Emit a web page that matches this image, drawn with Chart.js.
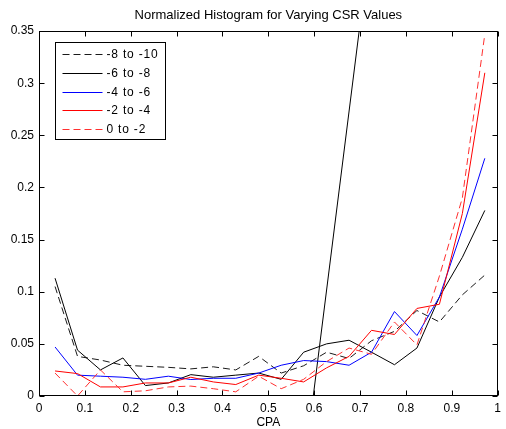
<!DOCTYPE html>
<html><head><meta charset="utf-8">
<script src="https://cdn.jsdelivr.net/npm/chart.js@4.4.1/dist/chart.umd.min.js"></script>
<style>html,body{margin:0;padding:0;background:#fff}#wrap{width:506px;height:429px;position:relative}</style>
</head><body><div id="wrap"><canvas id="c"></canvas></div>
<script>
// ---- data ----
const binCenters = [0.035, 0.084, 0.134, 0.183, 0.232, 0.282, 0.331, 0.380, 0.429, 0.479, 0.528, 0.577, 0.627, 0.676, 0.725, 0.775, 0.824, 0.873, 0.923, 0.972];
const seriesNames = ['-8 to -10', '-6 to -8', '-4 to -6', '-2 to -4', '0 to -2'];
const csr8to10 = [0.105, 0.038, 0.0345, 0.0295, 0.0285, 0.0275, 0.026, 0.028, 0.025, 0.038, 0.022, 0.029, 0.042, 0.036, 0.053, 0.062, 0.082, 0.071, 0.097, 0.116];
const csr6to8  = [0.113, 0.044, 0.025, 0.0365, 0.010, 0.0125, 0.0205, 0.018, 0.020, 0.022, 0.016, 0.042, 0.050, 0.0535, 0.042, 0.030, 0.046, 0.095, 0.133, 0.178];
const csr4to6  = [0.047, 0.020, 0.019, 0.018, 0.016, 0.019, 0.0158, 0.017, 0.017, 0.022, 0.0295, 0.034, 0.033, 0.0295, 0.042, 0.081, 0.058, 0.095, 0.160, 0.228];
const csr2to4  = [0.024, 0.0215, 0.0087, 0.0087, 0.0125, 0.0125, 0.018, 0.0135, 0.011, 0.020, 0.017, 0.0135, 0.027, 0.038, 0.063, 0.059, 0.084, 0.088, 0.175, 0.310];
const csr0to2  = [0.022, 0.0, 0.025, 0.004, 0.005, 0.0087, 0.0095, 0.007, 0.004, 0.019, 0.007, 0.016, 0.033, 0.046, 0.040, 0.071, 0.049, 0.115, 0.190, 0.347];
const spikeX = [0.598, 0.698];
const spikeY = [0, 0.35];
const xTickValues = [0, 0.1, 0.2, 0.3, 0.4, 0.5, 0.6, 0.7, 0.8, 0.9, 1];
const xTickLabels = ['0', '0.1', '0.2', '0.3', '0.4', '0.5', '0.6', '0.7', '0.8', '0.9', '1'];
const yTickValues = [0, 0.05, 0.1, 0.15, 0.2, 0.25, 0.3, 0.35];
const yTickLabels = ['0', '0.05', '0.1', '0.15', '0.2', '0.25', '0.3', '0.35'];

// ---- styles ----
const seriesValues = [csr8to10, csr6to8, csr4to6, csr2to4, csr0to2];
const lineColors = ['#1a1a1a', '#000000', '#0000ff', '#ff0000', '#ff3030'];
const lineDashes = [[7, 4], [], [], [], [7, 4]];
const FONT = "'Liberation Sans', Arial, Helvetica, sans-serif";

const datasets = seriesNames.map((name, i) => ({
  label: name,
  data: binCenters.map((x, j) => ({x: x, y: seriesValues[i][j]})),
  borderColor: lineColors[i],
  borderDash: lineDashes[i],
  borderWidth: 1,
  pointRadius: 0,
  tension: 0,
  fill: false,
  order: 10 - i
}));
datasets.push({
  label: '',
  data: spikeX.map((x, j) => ({x: x, y: spikeY[j]})),
  borderColor: '#000000',
  borderWidth: 1,
  pointRadius: 0,
  tension: 0,
  fill: false,
  order: 20
});

const framePlugin = {
  id: 'frame',
  afterDatasetsDraw(chart) {
    const {ctx, chartArea: a, scales: {x, y}} = chart;
    ctx.save();
    ctx.strokeStyle = '#000';
    ctx.lineWidth = 1;
    ctx.setLineDash([]);
    const L = Math.round(a.left) + 0.5, R = Math.round(a.right) - 0.5;
    const T = Math.round(a.top) + 0.5, B = Math.round(a.bottom) - 0.5;
    ctx.strokeRect(L, T, R - L, B - T);
    const tl = 5;
    ctx.beginPath();
    xTickValues.forEach(v => {
      const px = Math.round(x.getPixelForValue(v)) + 0.5;
      ctx.moveTo(px, B); ctx.lineTo(px, B - tl);
      ctx.moveTo(px, T); ctx.lineTo(px, T + tl);
    });
    yTickValues.forEach(v => {
      const py = Math.round(y.getPixelForValue(v)) + 0.5;
      ctx.moveTo(L, py); ctx.lineTo(L + tl, py);
      ctx.moveTo(R, py); ctx.lineTo(R - tl, py);
    });
    ctx.stroke();

    // legend box
    const bx = Math.round(a.left + 16) + 0.5, by = Math.round(a.top + 11) + 0.5;
    const bw = 110, bh = 97;
    ctx.fillStyle = '#fff';
    ctx.fillRect(bx, by, bw, bh);
    ctx.strokeStyle = '#000';
    ctx.strokeRect(bx, by, bw, bh);
    ctx.font = '12px ' + FONT;
    if ('letterSpacing' in ctx) ctx.letterSpacing = '0.8px';
    ctx.textBaseline = 'middle';
    ctx.textAlign = 'left';
    seriesNames.forEach((name, i) => {
      const ry = Math.round(by + 11.5 + i * 18.8) + 0.5;
      ctx.beginPath();
      ctx.strokeStyle = lineColors[i];
      ctx.setLineDash(lineDashes[i]);
      ctx.moveTo(bx + 7, ry);
      ctx.lineTo(bx + 47, ry);
      ctx.stroke();
      ctx.setLineDash([]);
      ctx.fillStyle = '#000';
      ctx.fillText(name, bx + 51, ry);
    });
    if ('letterSpacing' in ctx) ctx.letterSpacing = '0px';
    ctx.restore();
  }
};

new Chart(document.getElementById('c'), {
  type: 'line',
  data: {datasets: datasets},
  options: {
    responsive: true,
    maintainAspectRatio: false,
    animation: false,
    events: [],
    layout: {padding: {left: 0, right: 3, top: 0, bottom: 0}},
    plugins: {
      legend: {display: false},
      tooltip: {enabled: false},
      title: {
        display: true,
        fullSize: false,
        text: 'Normalized Histogram for Varying CSR Values',
        color: '#000',
        font: {family: FONT, size: 13, weight: 'normal', lineHeight: 1.2},
        padding: {top: 7.5, bottom: 8}
      }
    },
    scales: {
      x: {
        type: 'linear', min: 0, max: 1,
        afterBuildTicks: s => { s.ticks = xTickValues.map(v => ({value: v})); },
        afterFit: s => { s.height = 33; },
        grid: {display: false, drawTicks: false},
        border: {display: false},
        ticks: {
          color: '#000', padding: 5, maxRotation: 0, autoSkip: false,
          font: {family: FONT, size: 12},
          callback: (v, i) => xTickLabels[i]
        },
        title: {display: true, text: 'CPA', color: '#000', font: {family: FONT, size: 12, lineHeight: 1}, padding: {top: 0, bottom: 0}}
      },
      y: {
        type: 'linear', min: 0, max: 0.35,
        afterBuildTicks: s => { s.ticks = yTickValues.map(v => ({value: v})); },
        afterFit: s => { s.width = 39; },
        grid: {display: false, drawTicks: false},
        border: {display: false},
        ticks: {
          color: '#000', padding: 5, autoSkip: false,
          font: {family: FONT, size: 12},
          callback: (v, i) => yTickLabels[i]
        }
      }
    }
  },
  plugins: [framePlugin]
});
</script></body></html>
